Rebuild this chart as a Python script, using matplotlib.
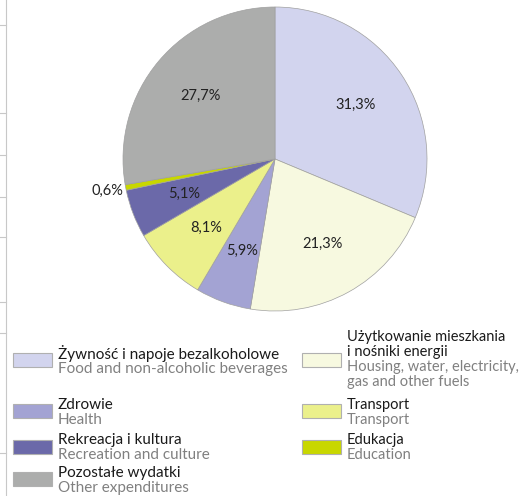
import numpy as np
import matplotlib.pyplot as plt
from matplotlib.patches import Rectangle

# Data
shares = [31.3, 21.3, 5.9, 8.1, 5.1, 0.6, 27.7]
labels_pl = ["Żywność i napoje bezalkoholowe",
             "Użytkowanie mieszkania\ni nośniki energii",
             "Zdrowie", "Transport", "Rekreacja i kultura",
             "Edukacja", "Pozostałe wydatki"]
labels_en = ["Food and non-alcoholic beverages",
             "Housing, water, electricity,\ngas and other fuels",
             "Health", "Transport", "Recreation and culture",
             "Education", "Other expenditures"]
colors = ["#d2d4ee", "#f7f9e0", "#a3a3d3", "#ebf08b", "#6b69a9", "#c8d700", "#acadac"]

plt.rcParams['font.family'] = ['Lato', 'DejaVu Sans']

W, H = 523, 496
fig = plt.figure(figsize=(W / 100, H / 100), dpi=100)
ax = fig.add_axes([0, 0, 1, 1])

cx, cy, r = 275, H - 159, 152
wedges, texts, autotexts = ax.pie(
    shares, colors=colors, startangle=90, counterclock=False,
    center=(cx, cy), radius=r,
    autopct=lambda p: f"{p:.1f}%".replace(".", ","), pctdistance=0.64,
    wedgeprops=dict(edgecolor="#a0a0a0", linewidth=0.5),
    textprops=dict(fontsize=10.5, color="#222222"))

# small slice label goes outside
for w, t, v in zip(wedges, autotexts, shares):
    if v < 1:
        ang = np.deg2rad((w.theta1 + w.theta2) / 2)
        t.set_position((cx + 1.12 * r * np.cos(ang), cy + 1.12 * r * np.sin(ang)))

ax.set_xlim(0, W)
ax.set_ylim(0, H)
ax.axis("off")

# thin axis remnant on left edge
ax.plot([6, 6], [0, H], color="#c8c8c8", lw=0.8)
for ty in [25, 113, 155, 197, 237, 302, 333, 453]:
    ax.plot([0, 6], [H - ty, H - ty], color="#c8c8c8", lw=0.8)

# legend: (swatch x, swatch centre y, first text line y, index, font size)
rows = [(13, 360, 354, 0, 11), (13, 411, 405, 2, 11), (13, 447, 440, 4, 11),
        (13, 479, 473, 6, 11),
        (302, 360, 337, 1, 10.5), (302, 411, 405, 3, 10.5), (302, 447, 440, 5, 10.5)]
for x, ys, yt, i, fs in rows:
    ax.add_patch(Rectangle((x, H - ys - 7), 39, 14, facecolor=colors[i],
                           edgecolor="#b0b0b0", lw=0.8))
    lines = [(s, "#1a1a1a") for s in labels_pl[i].split("\n")] + \
            [(s, "#808080") for s in labels_en[i].split("\n")]
    for k, (s, c) in enumerate(lines):
        ax.text(x + 45, H - (yt + 15 * k), s, fontsize=fs, color=c,
                va="center", ha="left")

fig.savefig("out.png", dpi=100)
